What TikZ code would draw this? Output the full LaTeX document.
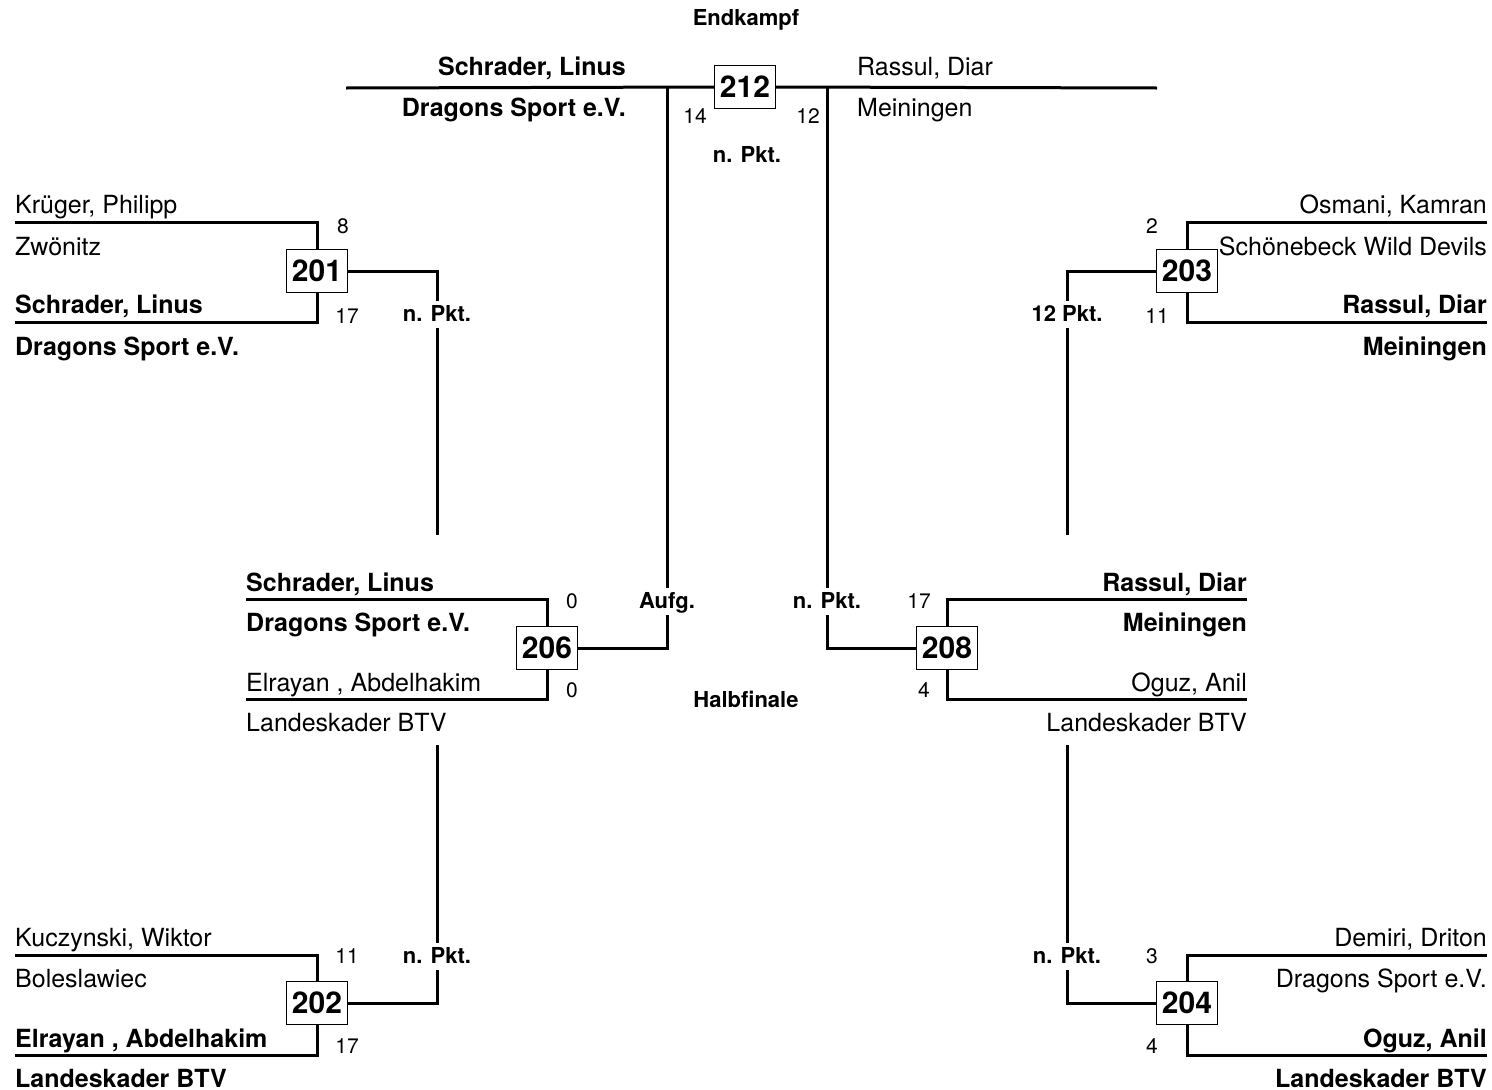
\documentclass[tikz,border=0pt]{standalone}
\usepackage{fontspec}
\setmainfont{TeX Gyre Heros}
\begin{document}
\begin{tikzpicture}[x=1pt,y=-1pt,
  ln/.style={line width=3pt},
  mbox/.style={draw,line width=0.9pt,fill=white,minimum width=61pt,minimum height=43pt,inner sep=0pt,font=\bfseries\fontsize{30}{30}\selectfont},
  nmL/.style={anchor=base west,inner sep=0pt,font=\fontsize{25}{25}\selectfont},
  nmR/.style={anchor=base east,inner sep=0pt,font=\fontsize{25}{25}\selectfont},
  nbL/.style={nmL,font=\bfseries\fontsize{25}{25}\selectfont},
  nbR/.style={nmR,font=\bfseries\fontsize{25}{25}\selectfont},
  sc/.style={inner sep=0pt,font=\fontsize{21}{21}\selectfont},
  lab/.style={fill=white,inner sep=3pt,text height=18pt,text depth=3pt,font=\bfseries\fontsize{22}{22}\selectfont}]
\useasboundingbox (0,0) rectangle (1492,1090);

% match boxes
\node[mbox] (m212) at (745,87) {212};
\node[mbox] (m201) at (317,271) {201};
\node[mbox] (m203) at (1187,271) {203};
\node[mbox] (m206) at (547,648) {206};
\node[mbox] (m208) at (947,648) {208};
\node[mbox] (m202) at (317,1003) {202};
\node[mbox] (m204) at (1187,1003) {204};

% coordinates
\coordinate (fa) at (346,88);
\coordinate (fb) at (1157,88);
\coordinate (fL) at (667,88);
\coordinate (fR) at (827,88);
\coordinate (a201t) at (15,222);
\coordinate (a201b) at (15,322);
\coordinate (a203t) at (1487,222);
\coordinate (a203b) at (1487,322);
\coordinate (a206t) at (246,599);
\coordinate (a206b) at (246,699);
\coordinate (a208t) at (1247,599);
\coordinate (a208b) at (1247,699);
\coordinate (a202t) at (15,955);
\coordinate (a202b) at (15,1055);
\coordinate (a204t) at (1487,955);
\coordinate (a204b) at (1487,1055);
\coordinate (c201) at (437,535);
\coordinate (c203) at (1067,535);
\coordinate (c202) at (437,745);
\coordinate (c204) at (1067,745);

\draw[ln] (fa) -- (m212.west);
\draw[ln] (m212.east) -- (fb);
\draw[ln] (fL) |- (m206.east);
\draw[ln] (fR) |- (m208.west);
\draw[ln] (a201t) -| (m201.north);
\draw[ln] (a201b) -| (m201.south);
\draw[ln] (m201.east) -| (c201);
\draw[ln] (a203t) -| (m203.north);
\draw[ln] (a203b) -| (m203.south);
\draw[ln] (m203.west) -| (c203);
\draw[ln] (a206t) -| (m206.north);
\draw[ln] (a206b) -| (m206.south);
\draw[ln] (a208t) -| (m208.north);
\draw[ln] (a208b) -| (m208.south);
\draw[ln] (a202t) -| (m202.north);
\draw[ln] (a202b) -| (m202.south);
\draw[ln] (m202.east) -| (c202);
\draw[ln] (a204t) -| (m204.north);
\draw[ln] (a204b) -| (m204.south);
\draw[ln] (m204.west) -| (c204);

% labels on lines
\node[lab] (l1) at (437,314) {n. Pkt.};
\node[lab] (l2) at (1067,314) {12 Pkt.};
\node[lab] (l3) at (437,956) {n. Pkt.};
\node[lab] (l4) at (1067,956) {n. Pkt.};
\node[lab] (l5) at (667,601) {Aufg.};
\node[lab] (l6) at (827,601) {n. Pkt.};
\node[lab] (l7) at (747,155) {n. Pkt.};
\node[lab] (t1) at (746,18) {Endkampf};
\node[lab] (t2) at (746,700) {Halbfinale};

% scores
\node[sc] (s1) at (343,226) {8};
\node[sc] (s2) at (347,316) {17};
\node[sc] (s3) at (1152,226) {2};
\node[sc] (s4) at (1157,316) {11};
\node[sc] (s5) at (572,601) {0};
\node[sc] (s6) at (572,690) {0};
\node[sc] (s7) at (919,601) {17};
\node[sc] (s8) at (924,690) {4};
\node[sc] (s9) at (347,956) {11};
\node[sc] (s10) at (347,1046) {17};
\node[sc] (s11) at (1152,956) {3};
\node[sc] (s12) at (1152,1046) {4};
\node[sc] (s13) at (695,116) {14};
\node[sc] (s14) at (808,116) {12};

% final names
\node[nbR] (n1) at (626,75) {Schrader, Linus};
\node[nbR] (n2) at (626,116) {Dragons Sport e.V.};
\node[nmL] (n3) at (857,75) {Rassul, Diar};
\node[nmL] (n4) at (857,116) {Meiningen};

% 201
\node[nmL] (n5) at (15,213) {Krüger, Philipp};
\node[nmL] (n6) at (15,255) {Zwönitz};
\node[nbL] (n7) at (15,313) {Schrader, Linus};
\node[nbL] (n8) at (15,355) {Dragons Sport e.V.};
% 203
\node[nmR] (n9) at (1487,213) {Osmani, Kamran};
\node[nmR] (n10) at (1487,255) {Schönebeck Wild Devils};
\node[nbR] (n11) at (1487,313) {Rassul, Diar};
\node[nbR] (n12) at (1487,355) {Meiningen};
% 206
\node[nbL] (n13) at (246,591) {Schrader, Linus};
\node[nbL] (n14) at (246,631) {Dragons Sport e.V.};
\node[nmL] (n15) at (246,691) {Elrayan , Abdelhakim};
\node[nmL] (n16) at (246,731) {Landeskader BTV};
% 208
\node[nbR] (n17) at (1247,591) {Rassul, Diar};
\node[nbR] (n18) at (1247,631) {Meiningen};
\node[nmR] (n19) at (1247,691) {Oguz, Anil};
\node[nmR] (n20) at (1247,731) {Landeskader BTV};
% 202
\node[nmL] (n21) at (15,946) {Kuczynski, Wiktor};
\node[nmL] (n22) at (15,987) {Boleslawiec};
\node[nbL] (n23) at (15,1047) {Elrayan , Abdelhakim};
\node[nbL] (n24) at (15,1087) {Landeskader BTV};
% 204
\node[nmR] (n25) at (1487,946) {Demiri, Driton};
\node[nmR] (n26) at (1487,987) {Dragons Sport e.V.};
\node[nbR] (n27) at (1487,1047) {Oguz, Anil};
\node[nbR] (n28) at (1487,1087) {Landeskader BTV};
\end{tikzpicture}
\end{document}
